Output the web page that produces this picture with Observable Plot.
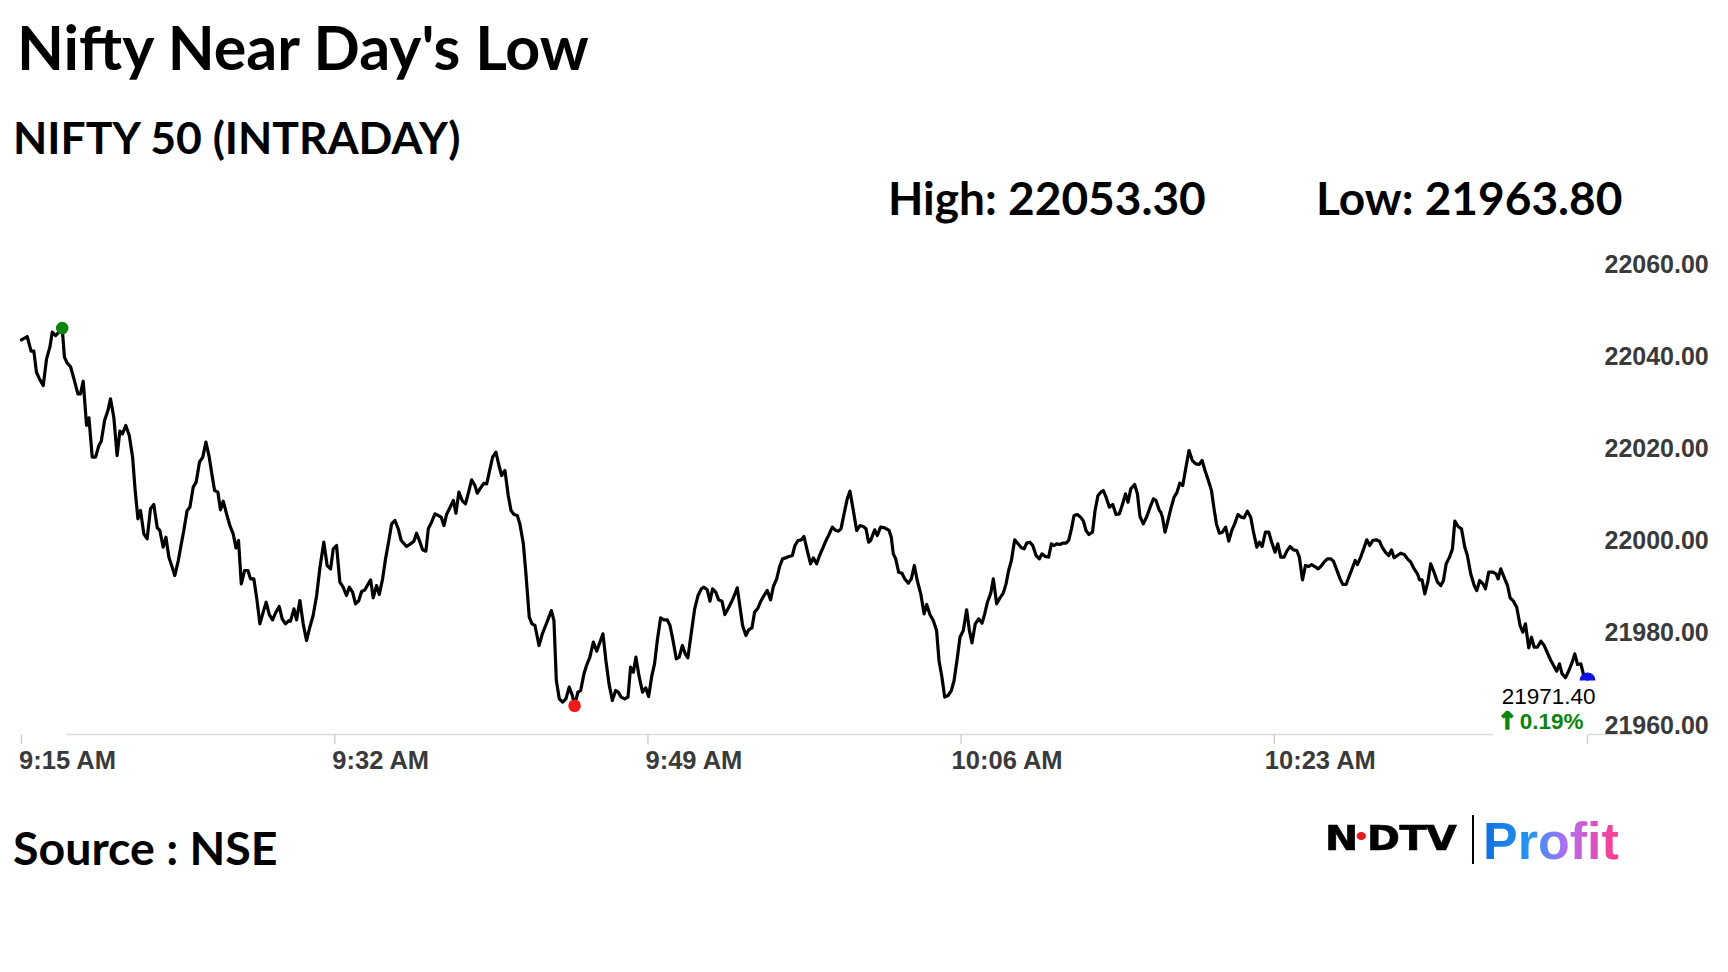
<!DOCTYPE html>
<html>
<head>
<meta charset="utf-8">
<script src="https://cdn.jsdelivr.net/npm/d3@7"></script>
<script src="https://cdn.jsdelivr.net/npm/@observablehq/plot@0.6"></script>
<style>
  html, body { margin: 0; padding: 0; background: #fff; }
  #page { position: relative; width: 1728px; height: 972px; overflow: hidden; background: #fff; }
  .t { position: absolute; white-space: nowrap; font-family: Lato, "Open Sans", sans-serif; font-weight: 700; color: #000; line-height: 1; }
  #title { left: 17px; top: 15.5px; font-size: 61px; }
  #subtitle { left: 13px; top: 114.5px; font-size: 44.5px; }
  #high { left: 888px; top: 175px; font-size: 46px; }
  #low { left: 1316px; top: 175px; font-size: 46px; }
  #source { left: 13px; top: 824px; font-size: 46.5px; }
  #chart { position: absolute; left: 0; top: 240px; }
  #ndtv { position: absolute; left: 1325px; top: 821px; font-family: "DejaVu Sans", sans-serif; font-weight: 900; font-size: 34px; line-height: 1; color: #000; transform: scaleX(1.17); transform-origin: left center; white-space: nowrap; letter-spacing: -0.5px; -webkit-text-stroke: 0.6px #000; }
  #ndtv .dot { display: inline-block; width: 8px; height: 8px; border-radius: 50%; background: #e31b23; margin: 0 1px 0 -1px; vertical-align: 0.28em; }
  #sep { position: absolute; left: 1472px; top: 815px; width: 2px; height: 49px; background: #000; }
  #profit { position: absolute; left: 1483px; top: 815px; font-family: "Liberation Sans", Arial, sans-serif; font-weight: 700; font-size: 52px; line-height: 1; white-space: nowrap;
    background: linear-gradient(90deg, #0f6fe0 0%, #2596f0 35%, #b56cf2 62%, #ff3b8a 100%);
    -webkit-background-clip: text; background-clip: text; color: transparent; -webkit-text-fill-color: transparent; }
</style>
</head>
<body>
<div id="page">
  <div class="t" id="title"></div>
  <div class="t" id="subtitle"></div>
  <div class="t" id="high"></div>
  <div class="t" id="low"></div>
  <div id="chart"></div>
  <div class="t" id="source"></div>
  <div id="ndtv">N<span class="dot"></span>DTV</div>
  <div id="sep"></div>
  <div id="profit">Profit</div>
</div>
<script>
// ---- Text ----
const titleText = "Nifty Near Day's Low";
const subtitleText = "NIFTY 50 (INTRADAY)";
const sourceText = "Source : NSE";
const dayHigh = 22053.30;
const dayLow = 21963.80;
const changePct = 0.19;

// ---- Axis ticks ----
const xTickMinutes = [0, 17, 34, 51, 68, 85];           // minutes after 9:15 AM
const xTickLabels = ["9:15 AM", "9:32 AM", "9:49 AM", "10:06 AM", "10:23 AM", ""];
const yTicks = [21960, 21980, 22000, 22020, 22040, 22060];

// ---- Series: minutes after 9:15 AM ----
const minutes = [
0.00,0.31,0.52,0.67,0.81,1.00,1.18,1.36,1.54,1.67,
1.85,2.08,2.21,2.33,2.48,2.66,2.88,3.06,3.20,3.35,
3.53,3.66,3.84,4.02,4.20,4.33,4.51,4.69,4.83,5.01,
5.19,5.34,5.48,5.66,5.85,6.03,6.17,6.32,6.46,6.64,
6.82,7.00,7.18,7.37,7.51,7.69,7.84,8.00,8.18,8.32,
8.51,8.69,8.81,8.99,9.14,9.32,9.48,9.66,9.84,10.01,
10.19,10.33,10.48,10.66,10.80,10.95,11.13,11.31,11.49,11.64,
11.78,11.93,12.11,12.29,12.43,12.61,12.76,12.94,13.12,13.28,
13.45,13.63,13.81,13.99,14.15,14.33,14.51,
14.60,14.79,14.93,15.11,15.29,15.47,15.65,15.83,16.02,16.20,
16.41,16.59,16.78,16.92,17.10,17.28,17.46,17.64,17.79,17.97,
18.13,18.31,18.46,18.64,18.80,18.95,19.09,19.27,19.42,19.60,
19.76,19.94,20.09,20.27,20.45,20.61,20.90,21.12,21.30,21.44,
21.63,21.77,21.95,22.08,22.26,22.44,22.62,22.78,22.93,23.07,
23.25,23.44,23.58,23.74,23.92,24.10,24.29,24.43,24.61,24.74,
24.92,25.10,25.25,25.41,25.57,25.75,25.93,26.06,26.24,26.42,
26.57,26.73,26.91,27.05,27.24,27.38,27.56,27.71,27.87,28.09,
28.27,28.45,28.59,28.76,28.90,29.03,29.19,29.37,29.55,29.73,
29.90,30.02,30.20,
30.35,30.53,30.67,30.85,31.04,31.22,31.40,31.56,31.72,31.89,
32.07,32.25,32.39,32.55,32.74,32.92,33.06,33.21,33.35,33.53,
33.71,33.88,34.04,34.20,34.36,34.51,34.69,34.87,35.05,35.20,
35.38,35.54,35.70,35.87,36.03,36.17,36.36,36.54,36.72,36.90,
37.04,37.22,37.37,37.51,37.68,37.84,38.02,38.18,38.35,38.53,
38.67,38.85,39.00,39.14,39.32,39.47,39.65,39.79,39.97,40.12,
40.30,40.48,40.66,40.81,40.99,41.15,41.31,41.49,41.66,41.84,
41.98,42.15,42.33,42.47,42.65,42.83,42.98,43.16,43.32,43.50,
43.67,43.83,44.01,44.19,44.34,44.48,44.64,44.82,44.97,45.15,
45.33,45.51,45.69,45.84,45.98,
46.09,46.31,46.45,46.63,46.85,47.09,47.21,47.32,47.45,47.61,
47.79,47.94,48.14,48.30,48.46,48.62,48.81,48.99,49.13,49.31,
49.49,49.67,49.80,49.96,50.11,50.29,50.47,50.62,50.80,50.94,
51.12,51.30,51.45,51.59,51.77,51.95,52.14,52.28,52.43,52.61,
52.75,52.93,53.11,53.29,53.44,53.58,53.73,53.91,54.09,54.27,
54.42,54.56,54.74,54.89,55.07,55.25,55.39,55.57,55.75,55.90,
56.04,56.19,56.37,56.51,56.70,56.84,56.99,57.13,57.31,57.49,
57.64,57.78,57.94,58.13,58.27,58.43,58.58,58.72,58.87,59.05,
59.23,59.41,59.59,59.77,59.92,60.06,60.21,60.42,60.57,60.71,
60.89,61.08,61.26,61.44,61.58,61.76,
61.84,61.93,62.07,62.23,62.38,62.56,62.70,62.87,63.03,63.19,
63.37,63.55,63.74,63.92,64.08,64.24,64.42,64.59,64.73,64.86,
65.02,65.18,65.36,65.53,65.69,65.85,66.03,66.21,66.36,66.54,
66.72,66.87,67.05,67.19,67.34,67.52,67.70,67.86,68.04,68.19,
68.35,68.53,68.68,68.86,69.04,69.22,69.36,69.53,69.69,69.87,
70.02,70.20,70.38,70.52,70.70,70.88,71.06,71.21,71.39,71.57,
71.72,71.90,72.08,72.22,72.39,72.51,72.69,72.87,73.02,73.18,
73.34,73.53,73.71,73.85,74.03,74.21,74.36,74.50,74.68,74.86,
75.05,75.23,75.41,75.59,75.77,75.88,76.02,76.17,76.33,76.49,
76.67,76.86,
77.04,77.18,77.33,77.51,77.67,77.80,77.98,78.16,78.34,78.48,
78.66,78.85,78.99,79.15,79.33,79.46,79.64,79.86,80.04,80.15,
80.29,80.47,80.66,80.80,80.98,81.16,81.34,81.49,81.63,81.81,
81.96,82.10,82.28,82.47,82.65,82.83,83.01,83.19,83.33,83.48,
83.62,83.80,83.99,84.17,84.31,84.46,84.64,84.78,85.00
];

// ---- Series: NIFTY 50 index level ----
const prices = [
22045.05,22045.77,22042.59,22042.59,22038.03,22036.36,22035.13,22040.92,22043.46,22046.72,
22045.99,22046.93,22047.60,22041.29,22039.98,22039.26,22036.07,22033.32,22033.32,22036.07,
22026.45,22028.11,22019.57,22019.57,22022.10,22023.04,22027.53,22029.70,22032.24,22028.25,
22019.93,22025.22,22024.64,22026.45,22024.28,22019.57,22012.33,22006.18,22007.99,22002.92,
22001.84,22008.35,22009.29,22004.22,22003.65,22000.03,22002.20,21997.86,21995.68,21993.87,
21997.13,22001.11,22003.65,22007.99,22008.71,22013.06,22014.14,22018.48,22019.57,22022.83,
22019.57,22015.95,22012.33,22011.97,22008.13,22010.02,22007.27,22004.73,22002.92,21999.88,
22001.48,21992.06,21994.96,21994.96,21993.15,21993.15,21989.17,21983.38,21985.91,21988.08,
21985.40,21984.25,21985.91,21987.14,21984.46,21983.38,21984.10,
21983.96,21986.64,21984.25,21988.44,21983.38,21979.76,21982.65,21985.19,21989.53,21995.68,
22001.11,21996.05,21995.32,21999.66,22000.39,21992.43,21991.34,21989.53,21991.34,21990.26,
21987.72,21988.44,21990.40,21990.76,21991.92,21992.93,21989.02,21991.70,21989.75,21993.15,
21997.50,22001.48,22005.10,22005.82,22004.01,22001.48,22000.17,22000.75,22001.33,22003.07,
22001.11,21999.45,21999.16,22004.01,22005.46,22007.27,22006.90,22006.54,22004.73,22007.12,
22008.57,22010.16,22007.41,22011.97,22010.16,22009.44,22012.33,22014.65,22013.42,22011.75,
22012.91,22013.92,22013.78,22016.68,22019.57,22020.66,22017.54,22015.59,22016.68,22011.25,
22007.99,22007.12,22006.90,22005.09,22000.75,21994.24,21984.83,21983.38,21983.02,21978.67,
21981.21,21983.02,21984.46,21986.27,21984.10,21971.07,21967.09,21966.37,21967.09,21969.63,
21967.82,21965.60,21968.54,
21968.90,21972.52,21974.33,21976.14,21979.40,21977.44,21979.40,21981.21,21975.42,21970.35,
21966.73,21968.90,21968.54,21967.46,21967.09,21967.46,21973.97,21972.88,21976.14,21971.80,
21968.54,21969.48,21967.60,21971.80,21974.69,21979.76,21984.68,21984.25,21984.25,21983.02,
21979.40,21975.78,21976.14,21978.67,21976.86,21975.99,21981.57,21986.64,21989.53,21990.98,
21991.34,21990.76,21988.30,21990.98,21990.26,21988.59,21988.30,21985.40,21986.64,21988.08,
21989.31,21991.20,21987.00,21983.02,21980.85,21982.08,21982.51,21985.91,21986.78,21988.23,
21989.53,21990.62,21988.59,21991.49,21993.15,21995.83,21997.50,21997.71,21998.00,21998.22,
22000.39,22001.48,22001.62,22002.34,21999.30,21996.41,21997.71,21996.41,21998.22,21999.88,
22001.48,22002.78,22004.37,22003.65,22003.50,22004.01,22007.12,22010.52,22012.19,22007.99,
22003.65,22004.73,22004.51,22004.01,22001.11,
22001.48,22003.79,22002.56,22004.37,22004.22,22003.65,22002.20,21998.58,21997.50,21994.60,
21994.38,21993.15,21992.21,21993.15,21996.05,21992.79,21989.89,21985.55,21987.58,21985.40,
21984.10,21981.93,21975.42,21971.80,21967.46,21967.82,21968.90,21971.07,21976.14,21980.48,
21981.93,21986.42,21981.93,21979.25,21983.38,21984.46,21983.53,21985.55,21988.08,21990.04,
21993.15,21987.72,21989.02,21990.04,21992.06,21994.96,21997.13,22001.62,22000.75,21999.88,
21999.66,22000.90,22001.11,22000.39,21998.22,21997.50,21998.58,21998.00,21997.86,22000.75,
22000.39,22000.75,22000.61,22000.90,22000.90,22001.48,22004.01,22006.90,22007.12,22006.54,
22005.67,22003.65,22002.78,22003.28,22007.99,22011.25,22011.97,22012.33,22010.88,22008.71,
22009.29,22007.12,22007.27,22009.44,22011.61,22009.80,22012.69,22013.64,22011.61,22006.69,
22005.09,22006.69,22008.71,22010.52,22010.16,22007.99,
22007.63,22006.54,22003.28,22005.82,22008.35,22010.88,22011.75,22013.92,22013.42,22017.04,
22021.02,22018.85,22018.12,22017.98,22018.85,22016.68,22014.50,22012.33,22008.35,22005.09,
22003.07,22003.28,22004.37,22001.33,22003.65,22005.09,22007.12,22006.54,22006.40,22007.84,
22006.54,22003.28,22000.03,22001.11,22000.17,22003.28,22003.28,22001.11,21998.94,22000.75,
21997.86,21997.86,21999.16,22000.17,21999.45,21999.30,21997.86,21992.93,21996.05,21995.83,
21996.26,21995.83,21995.32,21995.83,21996.77,21997.50,21997.50,21996.99,21995.10,21993.15,
21991.92,21991.92,21993.87,21995.32,21997.13,21996.26,21997.86,21999.88,22001.62,22000.39,
22001.48,22001.62,22001.33,22000.03,21998.94,21998.22,21999.45,21997.71,21998.22,21998.72,
21998.44,21997.50,21996.77,21995.32,21994.24,21992.93,21992.93,21989.89,21992.43,21996.41,
21994.60,21992.43,
21991.70,21992.79,21996.41,21997.86,21999.66,22005.67,22004.51,22004.01,22000.03,21998.22,
21994.24,21991.70,21990.62,21992.79,21992.06,21990.98,21994.60,21994.60,21994.24,21993.15,
21995.32,21993.51,21991.70,21989.02,21988.30,21987.00,21983.02,21981.57,21983.38,21978.17,
21980.48,21978.31,21978.31,21979.61,21978.67,21977.01,21975.42,21974.11,21973.10,21974.69,
21972.52,21971.65,21973.24,21975.05,21976.86,21974.55,21974.69,21972.38,21971.40
];

// ---- Build ----
document.getElementById("title").textContent = titleText;
document.getElementById("subtitle").textContent = subtitleText;
document.getElementById("high").textContent = "High: " + dayHigh.toFixed(2);
document.getElementById("low").textContent = "Low: " + dayLow.toFixed(2);
document.getElementById("source").textContent = sourceText;

const n = Math.min(minutes.length, prices.length);
const data = d3.range(n).map(i => ({t: minutes[i], v: prices[i]}));
const hi = data[d3.maxIndex(data, d => d.v)];
const lo = data[d3.minIndex(data, d => d.v)];
const last = data[n - 1];

// half-disc symbol (upper half) for the last point
const halfDisc = {
  draw(ctx, size) {
    const r = Math.sqrt(size / Math.PI);
    ctx.moveTo(r, 0);
    ctx.arc(0, 0, r, 0, Math.PI, true);
    ctx.closePath();
  }
};

const green = "#0a850a";

const chart = Plot.plot({
  width: 1728,
  height: 540,
  marginLeft: 21,
  marginRight: 141,
  marginTop: 30.5,
  marginBottom: 49,
  x: {type: "linear", domain: [0, 85], axis: null},
  y: {type: "linear", domain: [21960, 22060], axis: null},
  style: {background: "white", fontFamily: "'Liberation Sans', Arial, sans-serif", overflow: "visible"},
  marks: [
    // baseline (with gaps as in the original)
    Plot.ruleY([{a: 2.44, b: 79.9}, {a: 85.07, b: 87.46}], {
      y: () => 21960, x1: "a", x2: "b", dy: 3, stroke: "#dcdcdc", strokeWidth: 1.5
    }),
    // x ticks
    Plot.ruleX(xTickMinutes, {
      x: d => d, y1: () => 21959.2, y2: () => 21957.2, stroke: "#cfcfcf", strokeWidth: 1.5
    }),
    // x labels
    Plot.text(xTickMinutes, {
      x: d => d, text: (d, i) => xTickLabels[i], frameAnchor: "bottom",
      textAnchor: "middle", dx: 46, dy: 37.5, fontSize: 25.5, fontWeight: "bold", fill: "#3a3a3a"
    }),
    // y labels
    Plot.text(yTicks, {
      y: d => d, text: d => d.toFixed(2), frameAnchor: "right",
      textAnchor: "start", dx: 17, dy: -6, fontSize: 25, fontWeight: "bold", fill: "#3a3a3a"
    }),
    // price line
    Plot.line(data, {x: "t", y: "v", stroke: "#000", strokeWidth: 3.2, strokeLinejoin: "round"}),
    // high / low / last markers
    Plot.dot([hi], {x: "t", y: "v", r: 6.3, fill: green, stroke: "none"}),
    Plot.dot([lo], {x: "t", y: "v", r: 6.3, fill: "#f21b1b", stroke: "none"}),
    Plot.dot([last], {x: "t", y: "v", r: 8, dy: 1.5, symbol: halfDisc, fill: "#1010e0", stroke: "none"}),
    // last value label
    Plot.text([last], {
      x: "t", y: "v", text: d => d.v.toFixed(2), textAnchor: "end",
      dx: 8, dy: 18, fontSize: 22.5, fontWeight: 500, fill: "#000"
    }),
    Plot.text([last], {
      x: "t", y: "v", text: () => "\u2191", textAnchor: "middle",
      dx: -80.5, dy: 42, fontSize: 24, fontWeight: "bold", fontFamily: "'DejaVu Sans', sans-serif",
      fill: green, stroke: green, strokeWidth: 1.4
    }),
    Plot.text([last], {
      x: "t", y: "v", text: () => changePct.toFixed(2) + "%", textAnchor: "end",
      dx: -4, dy: 42.5, fontSize: 22.5, fontWeight: "bold", fill: green
    })
  ]
});
document.getElementById("chart").appendChild(chart);
</script>
</body>
</html>
